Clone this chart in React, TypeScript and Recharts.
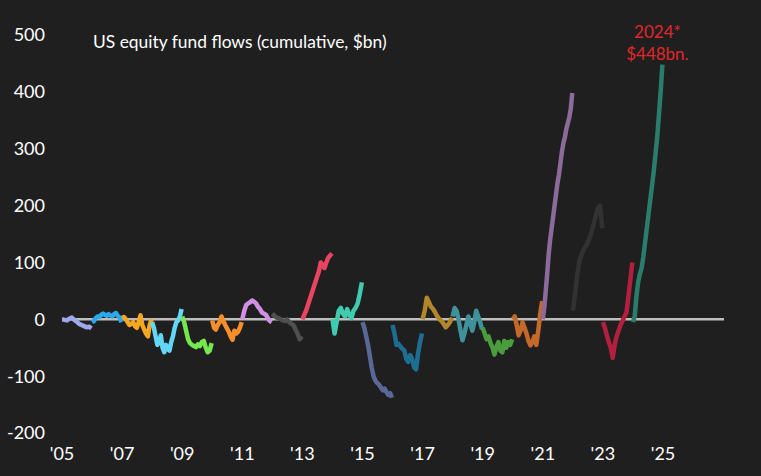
import { LineChart, Line, XAxis, YAxis, ReferenceLine, ReferenceDot } from "recharts";

// cumulative US equity fund flows, $bn, roughly weekly within each year
const flows2005 = [0, -1, -2, 1, 3, -1, -4, -8, -10, -12, -14, -13, -16];
const flows2006 = [-5, -3, 2, 5, 4, 8, 10, 8, 6, 9, 7, 5, 9, 11, 6, 3, -5];
const flows2007 = [2, 4, 0, -5, -10, -8, -5, -12, -15, -5, 7, -10, -18, -25, -30, -10, 0];
const flows2008 = [-5, -15, -30, -45, -40, -28, -50, -58, -45, -52, -55, -40, -30, -15, -5, -2, 5, 18];
const flows2009 = [5, -5, -20, -35, -42, -45, -47, -49, -44, -47, -40, -38, -50, -58, -55, -42];
const flows2010 = [-2, -15, -18, -10, -5, 5, -3, -10, -16, -22, -30, -36, -20, -25, -22, -15, -5];
const flows2011 = [0, 15, 25, 28, 30, 33, 31, 28, 22, 18, 12, 10, 8, 2, -3, -5];
const flows2012 = [10, 6, 3, 2, 0, -2, -3, 0, -5, -8, -10, -18, -25, -35, -30];
const flows2013 = [0, 8, 15, 25, 35, 45, 55, 65, 75, 85, 100, 95, 90, 100, 108, 112, 116];
const flows2014 = [0, -25, -5, 15, 20, 10, 5, 18, 8, 2, 15, 20, 28, 45, 65];
const flows2015 = [-5, -15, -30, -45, -65, -85, -100, -108, -112, -115, -120, -125, -122, -128, -133, -130, -138];
const flows2016 = [-10, -25, -45, -43, -48, -52, -55, -70, -75, -63, -70, -85, -88, -60, -40, -25];
const flows2017 = [0, 15, 38, 30, 22, 18, 12, 5, 0, -3, -8, -14, -10, -5, 3];
const flows2018 = [5, 20, 15, 0, -20, -37, -25, -10, 5, -8, -20, -5, 15, 5, -5, -18];
const flows2019 = [-15, -25, -35, -30, -42, -50, -62, -48, -40, -55, -58, -38, -50, -40, -45, -35];
const flows2020 = [0, 5, -10, -28, -20, -5, -15, -25, -38, -46, -40, -30, -45, -20, 10, 32];
const flows2021 = [0, 20, 50, 80, 115, 140, 160, 180, 200, 220, 240, 255, 275, 295, 310, 320, 335, 345, 355, 370, 398];
const flows2022 = [15, 45, 80, 105, 115, 125, 130, 140, 150, 165, 180, 195, 200, 160];
const flows2023 = [-5, -15, -28, -40, -50, -68, -45, -30, -20, -10, -3, 5, 12, 40, 70, 100];
const flows2024 = [-5, 5, 40, 65, 80, 90, 110, 135, 160, 185, 210, 235, 260, 290, 320, 360, 400, 448];

const years = [
  2005, 2006, 2007, 2008, 2009, 2010, 2011, 2012, 2013, 2014,
  2015, 2016, 2017, 2018, 2019, 2020, 2021, 2022, 2023, 2024,
];
const yearFlows = [
  flows2005, flows2006, flows2007, flows2008, flows2009, flows2010, flows2011,
  flows2012, flows2013, flows2014, flows2015, flows2016, flows2017, flows2018,
  flows2019, flows2020, flows2021, flows2022, flows2023, flows2024,
];
const yearColors = [
  "#9ea8ec", "#2aaae8", "#f7a822", "#62d8f8", "#74e84c", "#f78e2a", "#d18fe6",
  "#4f4f4f", "#ea4460", "#40cbb0", "#5a6898", "#1e6d92", "#b3862c", "#3f929c",
  "#4a9c3c", "#c4692a", "#8c6a9c", "#323232", "#b31f3e", "#2a7d6b",
];

const xTicks = [2005, 2007, 2009, 2011, 2013, 2015, 2017, 2019, 2021, 2023, 2025];
const yTicks = [-200, -100, 0, 100, 200, 300, 400, 500];

const series = years.map((year, k) => {
  const vals = yearFlows[k];
  return {
    year,
    color: yearColors[k],
    data: vals.map((v, i) => ({ t: year + (i / (vals.length - 1)) * 0.98, v })),
  };
});

const font = "Lato, 'Open Sans', sans-serif";

function CalloutLabel(props: any) {
  const { viewBox } = props;
  const cx = viewBox.x + (viewBox.width || 0) / 2 - 5;
  const cy = viewBox.y;
  return (
    <text x={cx} y={cy} textAnchor="middle" fill="#e2262b" fontSize={17} fontFamily={font}>
      <tspan x={cx} dy={-27}>2024*</tspan>
      <tspan x={cx} dy={22}>$448bn.</tspan>
    </text>
  );
}

export default function App() {
  return (
    <div
      style={{
        position: "absolute",
        left: 0,
        top: 0,
        width: 761,
        height: 476,
        background: "#1f1f1f",
        fontFamily: font,
      }}
    >
      <div
        style={{
          position: "absolute",
          left: 93,
          top: 31,
          color: "#fff",
          fontSize: 17.4,
          whiteSpace: "nowrap",
        }}
      >
        US equity fund flows (cumulative, $bn)
      </div>
      <LineChart width={761} height={476} margin={{ top: 35, right: 37, bottom: 0, left: 0 }}>
        <XAxis
          dataKey="t"
          type="number"
          domain={[2005, 2027.03]}
          ticks={xTicks}
          tickFormatter={(v: number) => "'" + String(v).slice(2)}
          axisLine={false}
          tickLine={false}
          tickSize={0}
          tickMargin={14}
          height={43}
          allowDataOverflow
          tick={{ fill: "#fff", fontSize: 18, fontFamily: font }}
        />
        <YAxis
          type="number"
          domain={[-200, 500]}
          ticks={yTicks}
          axisLine={false}
          tickLine={false}
          tickSize={0}
          tickMargin={17}
          width={62}
          tick={{ fill: "#fff", fontSize: 18, fontFamily: font }}
        />
        <ReferenceLine y={0} stroke="#bdbdbd" strokeWidth={2.5} />
        {series.map((s) => (
          <Line
            key={s.year}
            data={s.data}
            dataKey="v"
            type="linear"
            stroke={s.color}
            strokeWidth={4.5}
            strokeLinejoin="round"
            dot={false}
            isAnimationActive={false}
          />
        ))}
        <ReferenceDot
          x={2024.98}
          y={448}
          r={0}
          fill="none"
          stroke="none"
          label={<CalloutLabel />}
        />
      </LineChart>
    </div>
  );
}
